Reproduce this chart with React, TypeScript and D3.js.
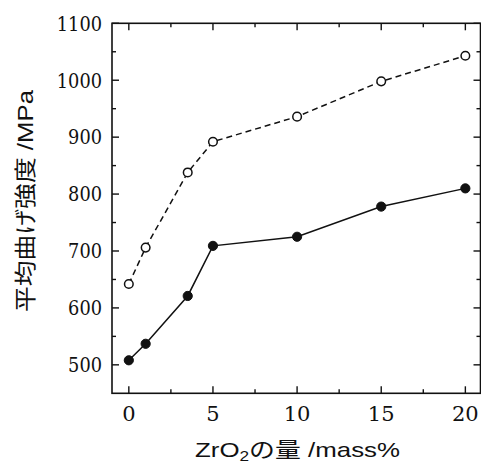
import React from "react";
import * as d3 from "d3";

const zrO2 = [0, 1, 3.5, 5, 10, 15, 20];
const openSeries = [642, 706, 838, 892, 936, 998, 1043];
const filledSeries = [508, 537, 621, 709, 725, 778, 810];
const xMajorTicks = [0, 5, 10, 15, 20];
const xMinorTicks = [2.5, 7.5, 12.5, 17.5];
const yMajorTicks = [500, 600, 700, 800, 900, 1000, 1100];
const yMinorTicks = [550, 650, 750, 850, 950, 1050];

const W = 481;
const H = 467;

export default function App() {
  const x = d3.scaleLinear().domain([-1, 20.9]).range([112, 480.5]);
  const y = d3.scaleLinear().domain([450, 1100]).range([393.3, 23.3]);
  const left = x(-1), right = x(20.9), top = y(1100), bottom = y(450);

  const line = d3
    .line<number>()
    .x((_, i) => x(zrO2[i]))
    .y((d) => y(d));

  const serif = "'DejaVu Serif', 'Liberation Serif', serif";
  const sans = "Liberation Sans, Arial, Noto Sans CJK JP, sans-serif";
  const major = 7;
  const minor = 4;

  return (
    <svg
      width={W}
      height={H}
      style={{ position: "absolute", left: 0, top: 0, background: "#fff" }}
    >
      <rect x={0} y={0} width={W} height={H} fill="#fff" />
      <rect
        x={left}
        y={top}
        width={right - left}
        height={bottom - top}
        fill="none"
        stroke="#111"
        strokeWidth={1.6}
      />
      {xMajorTicks.map((t) => (
        <g key={"xm" + t}>
          <line x1={x(t)} x2={x(t)} y1={bottom} y2={bottom - major} stroke="#111" strokeWidth={1.4} />
          <line x1={x(t)} x2={x(t)} y1={top} y2={top + major} stroke="#111" strokeWidth={1.4} />
          <text
            x={x(t)}
            y={421}
            textAnchor="middle"
            fontFamily={serif}
            fontSize={21}
            fill="#111"
          >
            {t}
          </text>
        </g>
      ))}
      {xMinorTicks.map((t) => (
        <g key={"xn" + t}>
          <line x1={x(t)} x2={x(t)} y1={bottom} y2={bottom - minor} stroke="#111" strokeWidth={1.4} />
          <line x1={x(t)} x2={x(t)} y1={top} y2={top + minor} stroke="#111" strokeWidth={1.4} />
        </g>
      ))}
      {yMajorTicks.map((t) => (
        <g key={"ym" + t}>
          <line x1={left} x2={left + major} y1={y(t)} y2={y(t)} stroke="#111" strokeWidth={1.4} />
          <line x1={right} x2={right - major} y1={y(t)} y2={y(t)} stroke="#111" strokeWidth={1.4} />
          <text
            x={102}
            y={y(t)}
            dy="0.35em"
            textAnchor="end"
            fontFamily={serif}
            fontSize={21}
            fill="#111"
            textLength={String(t).length * 11.3}
            lengthAdjust="spacingAndGlyphs"
          >
            {t}
          </text>
        </g>
      ))}
      {yMinorTicks.map((t) => (
        <g key={"yn" + t}>
          <line x1={left} x2={left + minor} y1={y(t)} y2={y(t)} stroke="#111" strokeWidth={1.4} />
          <line x1={right} x2={right - minor} y1={y(t)} y2={y(t)} stroke="#111" strokeWidth={1.4} />
        </g>
      ))}
      <path
        d={line(openSeries) || ""}
        fill="none"
        stroke="#111"
        strokeWidth={1.5}
        strokeDasharray="6,4"
      />
      <path d={line(filledSeries) || ""} fill="none" stroke="#111" strokeWidth={1.5} />
      {openSeries.map((v, i) => (
        <circle
          key={"o" + i}
          cx={x(zrO2[i])}
          cy={y(v)}
          r={4.3}
          fill="#fff"
          stroke="#111"
          strokeWidth={1.5}
        />
      ))}
      {filledSeries.map((v, i) => (
        <circle key={"f" + i} cx={x(zrO2[i])} cy={y(v)} r={4.6} fill="#111" stroke="#111" strokeWidth={1} />
      ))}
      <text
        x={195}
        y={457}
        fontFamily={sans}
        fontSize={21}
        fill="#111"
        textLength={205}
        lengthAdjust="spacingAndGlyphs"
      >
        ZrO<tspan fontSize={14} dy={4}>2</tspan>
        <tspan dy={-4}>の量 /mass%</tspan>
      </text>
      <text
        transform={`translate(33,${201}) rotate(-90)`}
        textAnchor="middle"
        fontFamily={sans}
        fontSize={22}
        fill="#111"
        textLength={222}
        lengthAdjust="spacingAndGlyphs"
      >
        平均曲げ強度 /MPa
      </text>
    </svg>
  );
}
